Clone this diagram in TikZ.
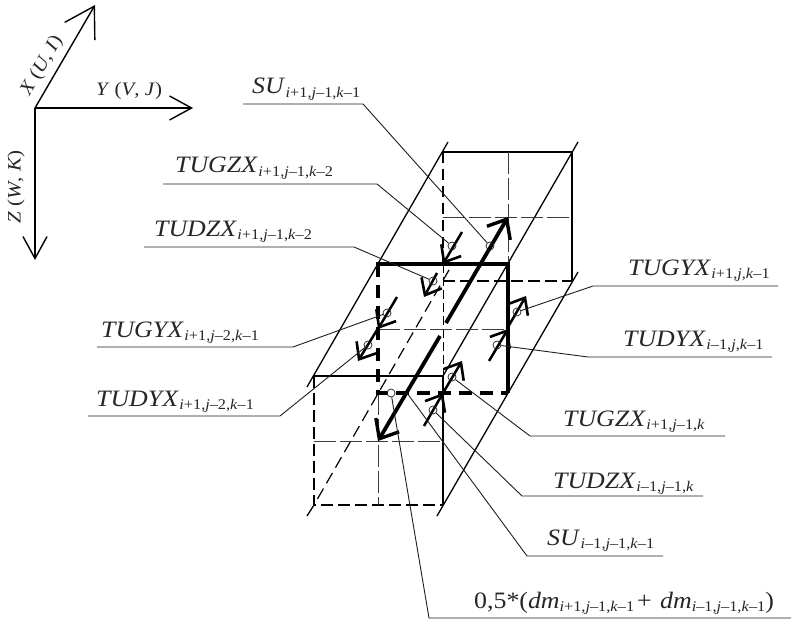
\documentclass[tikz,border=0pt]{standalone}
\usepackage{fontspec}
\setmainfont[FakeStretch=1.1]{Liberation Serif}
\usepackage{xcolor}
\definecolor{gridink}{RGB}{60,60,60}
\definecolor{leadink}{RGB}{30,30,30}
\usetikzlibrary{arrows.meta}
\newcommand{\subidx}[1]{\raisebox{-0.32ex}{\fontsize{14.8}{16}\selectfont #1}}
\newcommand{\triple}[6]{\subidx{\textit{#1}#2,\textit{#3}#4,\textit{#5}#6}}
\newcommand{\lblvar}[7]{\textit{#1}\kern0.5pt\triple{#2}{#3}{#4}{#5}{#6}{#7}}
\tikzset{
  framesolid/.style={line width=1.3pt, black},
  framedash/.style={line width=1.3pt, black, dash pattern=on 12pt off 5pt},
  framebold/.style={line width=1.9pt, black, dash pattern=on 11pt off 6pt},
  midline/.style={line width=0.9pt, gridink, dash pattern=on 22pt off 4pt},
  boxsolid/.style={line width=3.4pt, black},
  boxdash/.style={line width=3.6pt, black, dash pattern=on 13pt off 8pt},
  bigarrow/.style={line width=3.8pt, black, -{Straight Barb[length=16pt,width=27pt,line width=3.4pt]}},
  smallarrow/.style={line width=2.5pt, black, -{Straight Barb[length=14pt,width=23pt,line width=2.6pt]}},
  axisarrow/.style={line width=1.4pt, black, -{Straight Barb[length=22pt,width=24pt,line width=1.4pt]}},
  tiltarrow/.style={line width=1.4pt, black, -{Straight Barb[length=29pt,width=35pt,line width=1.4pt]}},
  leader/.style={line width=0.9pt, leadink},
  pin/.style={circle, draw=leadink, line width=0.7pt, minimum size=8pt, inner sep=0pt},
  lbl/.style={anchor=base west, inner sep=0pt, font=\fontsize{23.5}{25}\selectfont, text=black!85},
  axlbl/.style={inner sep=0pt, font=\fontsize{19}{22}\selectfont, text=black!85}
}
\begin{document}
\begin{tikzpicture}[x=1pt,y=-1pt]
  \useasboundingbox (0,0) rectangle (791,620);

  % Axes
  \coordinate (origin) at (35,108);
  \coordinate (xtip) at (95,5);
  \coordinate (ytip) at (193,108);
  \coordinate (ztip) at (35,260);
  \draw[tiltarrow] (origin) -- (xtip);
  \draw[axisarrow] (origin) -- (ytip);
  \draw[axisarrow] (origin) -- (ztip);
  \node[axlbl, rotate=60] (xlabel) at (42,66) {\textit{X} (\textit{U}, \textit{I})};
  \node[axlbl] (ylabel) at (129,91) {\textit{Y} (\textit{V}, \textit{J})};
  \node[axlbl, rotate=90] (zlabel) at (16,187) {\textit{Z} (\textit{W}, \textit{K})};

  % Long slanted edges
  \draw[framesolid] (448,142) -- (307,387);
  \draw[framesolid] (578,142) -- (443,376);
  \draw[framesolid] (578,272) -- (437,516);
  \draw[framesolid] (314,505) -- (307,516);
  \draw[line width=1.2pt, dash pattern=on 12pt off 6pt] (449,270) -- (314,505);

  % Back cell
  \draw[framesolid] (443,152) -- (572,152) -- (572,281);
  \draw[framebold] (443,152) -- (443,264);
  \draw[framedash] (443,281) -- (572,281);
  \draw[midline] (443,217) -- (572,217);
  \draw[midline] (508,152) -- (508,264);
  \draw[line width=0.9pt, dash pattern=on 9pt off 4pt] (443,264) -- (443,376);

  % Front cell
  \draw[framesolid] (314,376) -- (443,376) -- (443,505);
  \draw[framedash] (314,376) -- (314,505) -- (443,505);
  \draw[midline] (314,441) -- (443,441);
  \draw[midline] (378,393) -- (378,505);

  % Middle cell
  \draw[midline] (378,329) -- (508,329);
  \draw[boxsolid] (376.3,264) -- (508,264) -- (508,393);
  \draw[boxdash] (378,264) -- (378,393) -- (508,393);

  % Velocity arrows
  \coordinate (suTopTail) at (446,323);
  \coordinate (suTopHead) at (508,217);
  \coordinate (suLowTail) at (440,336);
  \coordinate (suLowHead) at (378,441);
  \draw[bigarrow] (suTopTail) -- (suTopHead);
  \draw[bigarrow] (suLowTail) -- (suLowHead);

  \coordinate (gzTopTail) at (462,232);
  \coordinate (gzTopHead) at (443,264);
  \coordinate (dzTopTail) at (437,273);
  \coordinate (dzTopHead) at (424,297);
  \coordinate (gyLeftTail) at (397,297);
  \coordinate (gyLeftHead) at (378,329);
  \coordinate (dyLeftTail) at (377,330);
  \coordinate (dyLeftHead) at (358,361);
  \coordinate (gyRightTail) at (508,327);
  \coordinate (gyRightHead) at (526,296);
  \coordinate (dyRightTail) at (489,361);
  \coordinate (dyRightHead) at (508,329);
  \coordinate (gzLowTail) at (443,393);
  \coordinate (gzLowHead) at (462,361);
  \coordinate (dzLowTail) at (424,426);
  \coordinate (dzLowHead) at (443,393);
  \draw[smallarrow] (gzTopTail) -- (gzTopHead);
  \draw[smallarrow] (dzTopTail) -- (dzTopHead);
  \draw[smallarrow] (gyLeftTail) -- (gyLeftHead);
  \draw[smallarrow] (dyLeftTail) -- (dyLeftHead);
  \draw[smallarrow] (gyRightTail) -- (gyRightHead);
  \draw[smallarrow] (dyRightTail) -- (dyRightHead);
  \draw[smallarrow] (gzLowTail) -- (gzLowHead);
  \draw[smallarrow] (dzLowTail) -- (dzLowHead);

  % Marker circles
  \node[pin] (pinSuTop) at (490,246) {};
  \node[pin] (pinGzTop) at (452,246) {};
  \node[pin] (pinDzTop) at (433,281) {};
  \node[pin] (pinGyLeft) at (387,313) {};
  \node[pin] (pinDyLeft) at (368,345) {};
  \node[pin] (pinGyRight) at (517,312) {};
  \node[pin] (pinDyRight) at (497,345) {};
  \node[pin] (pinGzLow) at (452,377) {};
  \node[pin] (pinDzLow) at (433,410) {};
  \node[pin] (pinDm) at (391,393) {};
  \coordinate (pinSuLow) at (407,393);

  % Labels
  \node[lbl] (lblSuTop) at (252,94) {\lblvar{SU}{i}{+1}{j}{--1}{k}{--1}};
  \node[lbl] (lblGzTop) at (175,173) {\lblvar{TUGZX}{i}{+1}{j}{--1}{k}{--2}};
  \node[lbl] (lblDzTop) at (154,236) {\lblvar{TUDZX}{i}{+1}{j}{--1}{k}{--2}};
  \node[lbl] (lblGyLeft) at (101,337) {\lblvar{TUGYX}{i}{+1}{j}{--2}{k}{--1}};
  \node[lbl] (lblDyLeft) at (96,406) {\lblvar{TUDYX}{i}{+1}{j}{--2}{k}{--1}};
  \node[lbl] (lblGyRight) at (628,275) {\lblvar{TUGYX}{i}{+1}{j}{}{k}{--1}};
  \node[lbl] (lblDyRight) at (623,346) {\lblvar{TUDYX}{i}{--1}{j}{}{k}{--1}};
  \node[lbl] (lblGzLow) at (563,426) {\lblvar{TUGZX}{i}{+1}{j}{--1}{k}{}};
  \node[lbl] (lblDzLow) at (553,488) {\lblvar{TUDZX}{i}{--1}{j}{--1}{k}{}};
  \node[lbl] (lblSuLow) at (547,545) {\lblvar{SU}{i}{--1}{j}{--1}{k}{--1}};
  \node[lbl] (lblDm) at (474,608) {0,5*(\textit{dm}\triple{i}{+1}{j}{--1}{k}{--1}\kern3pt + \kern2pt\textit{dm}\triple{i}{--1}{j}{--1}{k}{--1})};

  % Leaders
  \draw[leader] (pinSuTop) -- (363,104) -- (243,104);
  \draw[leader] (pinGzTop) -- (377,184) -- (163,184);
  \draw[leader] (pinDzTop) -- (354,247) -- (144,247);
  \draw[leader] (pinGyLeft) -- (293,347) -- (97,347);
  \draw[leader] (pinDyLeft) -- (280,416) -- (88,416);
  \draw[leader] (pinGyRight) -- (593,286) -- (778,286);
  \draw[leader] (pinDyRight) -- (588,357) -- (772,357);
  \draw[leader] (pinGzLow) -- (530,436) -- (725,436);
  \draw[leader] (pinDzLow) -- (522,496) -- (703,496);
  \draw[leader] (pinSuLow) -- (527,556) -- (663,556);
  \draw[leader] (pinDm) -- (429,618) -- (791,618);
\end{tikzpicture}
\end{document}
